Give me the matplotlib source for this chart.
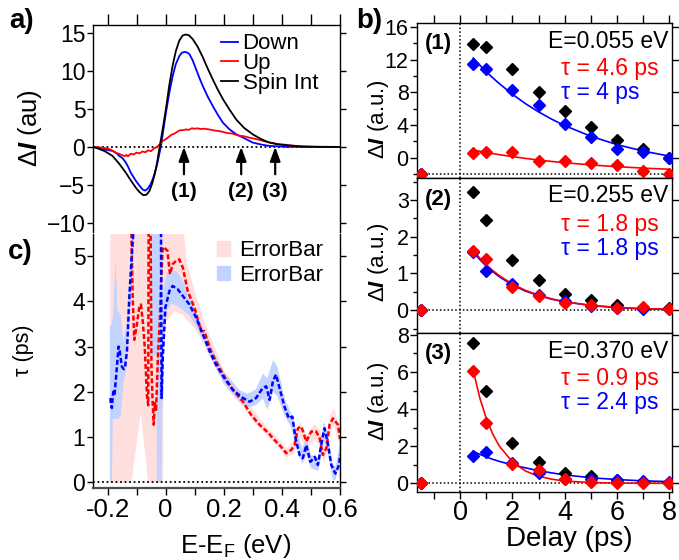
import numpy as np
import matplotlib
matplotlib.use("Agg")
import matplotlib.pyplot as plt
from matplotlib.patches import Patch

plt.rcParams['font.family'] = ['Liberation Sans', 'DejaVu Sans']
plt.rcParams['mathtext.fontset'] = 'custom'
plt.rcParams['mathtext.rm'] = 'Liberation Sans'
plt.rcParams['mathtext.it'] = 'Liberation Sans:italic'
plt.rcParams['mathtext.bf'] = 'Liberation Sans:bold'
plt.rcParams['axes.linewidth'] = 1.0
try:
    plt.rcParams['mathtext.bfit'] = 'Liberation Sans:italic:bold'
    DI = r'$\Delta\mathbfit{I}$'
except KeyError:
    DI = r'$\Delta\mathbf{I}$'

RED = '#ff0000'
BLUE = '#0000ff'
PINK = '#ffdede'
LBLUE = '#c3d3ff'

# ---- panel a: spectra (E - EF in eV, Delta I in au)
e_down = [-0.25, -0.217, -0.2, -0.183, -0.17, -0.16, -0.148, -0.137, -0.128, -0.12,
          -0.11, -0.102, -0.09, -0.079, -0.07, -0.062, -0.053, -0.045, -0.036, -0.028,
          -0.016, -0.008, 0.001, 0.012, 0.024, 0.035, 0.047, 0.056, 0.064, 0.073,
          0.082, 0.093, 0.105, 0.116, 0.128, 0.145, 0.162, 0.18, 0.197, 0.22,
          0.243, 0.266, 0.3, 0.33, 0.357, 0.415, 0.5, 0.6]
down = [0, -0.3, -0.4, -0.53, -0.8, -1.18, -1.5, -2.06, -2.7, -3.4,
        -4.0, -4.5, -5.1, -5.6, -5.75, -5.5, -5.0, -4.3, -3.3, -2.06,
        0.13, 2.2, 4.5, 7.0, 9.3, 10.9, 11.95, 12.4, 12.5, 12.45,
        12.2, 11.4, 10.2, 9.1, 8.0, 6.6, 5.4, 4.2, 3.2, 2.3,
        1.67, 1.23, 0.57, 0.3, 0.13, 0.02, 0, 0]

e_up = [-0.25, -0.22, -0.2, -0.19, -0.18, -0.17, -0.16, -0.15, -0.14, -0.135,
        -0.13, -0.12, -0.11, -0.1, -0.09, -0.08, -0.07, -0.06, -0.05, -0.04,
        -0.03, -0.02, -0.01, 0.0, 0.01, 0.02, 0.03, 0.04, 0.05, 0.06,
        0.07, 0.08, 0.09, 0.1, 0.11, 0.12, 0.13, 0.15, 0.17, 0.19,
        0.21, 0.23, 0.25, 0.27, 0.29, 0.31, 0.33, 0.35, 0.37, 0.39,
        0.41, 0.43, 0.45, 0.48, 0.52, 0.6]
up = [0, -0.1, -0.2, -0.35, -0.55, -0.8, -0.9, -1.1, -1.2, -1.05,
      -1.25, -0.9, -1.0, -0.75, -0.85, -0.6, -0.7, -0.45, -0.55, -0.2,
      0.0, 0.35, 0.8, 1.0, 1.3, 1.6, 1.75, 2.0, 2.2, 2.2,
      2.3, 2.25, 2.45, 2.4, 2.45, 2.35, 2.4, 2.3, 2.15, 2.05,
      1.85, 1.75, 1.5, 1.4, 1.2, 1.05, 0.85, 0.65, 0.5, 0.35,
      0.3, 0.2, 0.13, 0.06, 0.02, 0]

e_int = [-0.25, -0.24, -0.21, -0.183, -0.16, -0.137, -0.12, -0.102, -0.09, -0.077,
         -0.066, -0.056, -0.047, -0.039, -0.03, -0.022, -0.01, 0.001, 0.012, 0.024,
         0.035, 0.047, 0.058, 0.068, 0.08, 0.093, 0.11, 0.128, 0.145, 0.162,
         0.18, 0.197, 0.22, 0.243, 0.27, 0.3, 0.33, 0.357, 0.385, 0.415,
         0.47, 0.53, 0.6]
spin_int = [0, -0.1, -0.55, -1.18, -2.2, -3.4, -4.4, -5.4, -5.95, -6.35,
            -6.3, -5.8, -4.9, -3.8, -2.2, -0.3, 2.4, 5.0, 8.0, 10.7,
            12.6, 14.0, 14.65, 14.8, 14.7, 14.2, 13.2, 11.8, 10.3, 8.9,
            7.5, 6.3, 4.9, 3.6, 2.5, 1.65, 1.0, 0.57, 0.35, 0.22,
            0.05, 0.01, 0]

arrow_pos = [0.063, 0.26, 0.377]
arrow_lbl = ['(1)', '(2)', '(3)']

# ---- panel c: lifetimes (ps)
e_tau_up = [-0.125, -0.118, -0.113, -0.108, -0.100, -0.091, -0.085, -0.078, -0.072, -0.064,
            -0.060, -0.058, -0.053, -0.049, -0.045, -0.041, -0.037, -0.033, -0.027, -0.020,
            -0.016, -0.010, -0.005, 0.006, 0.015, 0.024, 0.036, 0.047, 0.059, 0.076,
            0.099, 0.122, 0.133, 0.156, 0.179, 0.208, 0.237, 0.266, 0.294, 0.323,
            0.355, 0.369, 0.392, 0.415, 0.432, 0.444, 0.455, 0.467, 0.484, 0.501,
            0.518, 0.530, 0.541, 0.553, 0.564, 0.576, 0.593, 0.600]
tau_up = [8.0, 5.5, 4.0, 3.15, 3.45, 3.86, 3.93, 3.5, 3.0, 1.9,
          1.7, 7.0, 7.0, 2.6, 1.8, 1.27, 1.75, 1.6, 2.7, 3.6,
          4.4, 5.2, 5.19, 5.12, 4.6, 4.82, 4.9, 4.93, 4.75, 4.23,
          3.86, 3.34, 3.34, 2.9, 2.6, 2.27, 2.0, 1.78, 1.49, 1.27,
          1.08, 0.97, 0.82, 0.64, 0.71, 0.82, 1.19, 1.23, 0.9, 1.12,
          1.12, 0.97, 0.6, 0.75, 1.27, 1.41, 1.27, 0.95]

e_tau_down = [-0.190, -0.188, -0.185, -0.182, -0.180, -0.176, -0.169, -0.162, -0.158, -0.151,
              -0.144, -0.140, -0.133, -0.125, -0.117, -0.111, -0.105, -0.020, -0.016, -0.014,
              -0.010, -0.001, 0.013, 0.024, 0.041, 0.059, 0.082, 0.105, 0.128, 0.151,
              0.173, 0.202, 0.231, 0.266, 0.289, 0.311, 0.334, 0.346, 0.358, 0.369,
              0.380, 0.392, 0.409, 0.424, 0.436, 0.447, 0.461, 0.472, 0.484, 0.498,
              0.513, 0.524, 0.539, 0.547, 0.559, 0.570, 0.584, 0.597, 0.600]
tau_down = [1.86, 1.7, 1.64, 1.9, 2.0, 1.93, 2.45, 3.0, 2.9, 2.56,
            2.5, 2.53, 2.9, 4.08, 4.97, 5.56, 8.0, 8.0, 5.56, 1.86,
            2.75, 3.86, 4.23, 4.34, 4.27, 4.12, 3.93, 3.64, 3.27, 2.9,
            2.6, 2.3, 2.04, 1.86, 1.78, 1.86, 2.08, 2.12, 1.82, 2.23,
            2.38, 2.08, 1.67, 1.41, 1.45, 0.97, 0.6, 0.53, 0.82, 0.45,
            0.56, 0.38, 0.97, 1.19, 0.82, 0.38, 0.19, 0.38, 0.6]

# error bands
e_err_up = [-0.192, -0.120, -0.087, -0.062, -0.010, -0.008, 0.03, 0.06, 0.07, 0.1,
            0.13, 0.16, 0.2, 0.24, 0.27, 0.3, 0.33, 0.36, 0.39, 0.415,
            0.44, 0.46, 0.485, 0.51, 0.53, 0.545, 0.565, 0.578, 0.6]
lo_up = [0, 0, 1.55, 0, 0, 3.5, 3.8, 3.7, 3.6, 3.4,
         3.05, 2.65, 2.15, 1.85, 1.65, 1.35, 1.15, 0.95, 0.75, 0.55,
         0.65, 1.0, 0.75, 0.95, 0.8, 0.45, 1.1, 1.25, 0.8]
hi_up = [5.6, 5.6, 5.6, 5.6, 5.6, 5.6, 5.6, 5.6, 4.9, 4.2,
         3.6, 3.1, 2.45, 2.15, 1.9, 1.6, 1.35, 1.15, 0.95, 0.75,
         0.95, 1.35, 1.05, 1.3, 1.15, 0.8, 1.5, 1.65, 1.1]

nan = float('nan')
e_err_down = [-0.192, -0.185, -0.182, -0.172, -0.166, -0.155, -0.145, -0.135, -0.125, -0.115,
              -0.105, nan, -0.052, -0.031, -0.030, -0.014, -0.012, -0.008, -0.003, 0.005,
              0.02, 0.04, 0.06, 0.08, 0.1, 0.13, 0.16, 0.2, 0.25, 0.28,
              0.31, 0.335, 0.35, 0.37, 0.385, 0.41, 0.43, 0.45, 0.47, 0.485,
              0.5, 0.525, 0.545, 0.56, 0.575, 0.585, 0.6]
lo_down = [0, 0, 1.4, 1.4, 1.4, 1.45, 2.2, 2.5, 3.6, 4.6,
           5.6, nan, 2.8, 2.8, 0, 0, 1.6, 2.4, 3.3, 3.8,
           3.95, 3.9, 3.8, 3.7, 3.5, 3.15, 2.7, 2.2, 1.8, 1.65,
           1.7, 1.85, 1.6, 2.0, 1.9, 1.45, 1.25, 0.75, 0.4, 0.6,
           0.3, 0.25, 0.9, 0.6, 0.05, 0.05, 0.5]
hi_down = [3.45, 3.5, 3.6, 4.9, 3.8, 3.7, 3.1, 3.5, 4.6, 5.6,
           5.6, nan, 5.6, 5.6, 5.6, 5.6, 5.6, 4.2, 4.4, 4.6,
           4.7, 4.65, 4.45, 4.15, 3.85, 3.4, 2.95, 2.45, 2.05, 1.95,
           2.05, 2.4, 2.3, 2.7, 2.55, 1.85, 1.55, 1.15, 0.75, 1.0,
           0.6, 0.55, 1.35, 1.0, 0.4, 0.35, 0.85]

# ---- panel b: delay traces
delay = [-1.5, 0.5, 1, 2, 3, 4, 5, 6, 7, 8]
int1 = [-2, 13.9, 13.6, 10.9, 8.0, 5.7, 3.7, 2.15, 1.0, -0.1]
down1 = [-2, 11.5, 10.9, 8.25, 6.4, 4.07, 2.5, 1.1, 0.73, -0.1]
up1 = [-1.95, 0.53, 0.73, 0.73, -0.4, -0.4, -0.7, -0.9, -1.6, -1.95]
int2 = [0, 3.23, 2.47, 1.38, 0.82, 0.45, 0.27, 0.14, 0.07, 0.05]
down2 = [0, 1.59, 1.07, 0.71, 0.41, 0.25, 0.12, 0.06, 0.02, 0.02]
up2 = [0, 1.61, 1.39, 0.64, 0.39, 0.2, 0.14, 0.07, 0.09, 0.02]
int3 = [0, 7.57, 4.95, 2.16, 1.17, 0.54, 0.4, 0.18, 0.09, 0.04]
down3 = [0, 1.48, 1.68, 1.12, 0.54, 0.25, 0.23, 0.18, 0.13, 0.05]
up3 = [0, 6.07, 3.24, 1.05, 0.72, 0.22, 0.05, 0, 0, 0]

fit_t = [0.5, 0.75, 1, 1.25, 1.5, 2, 2.5, 3, 3.5, 4, 5, 6, 7, 8]
fit_down1 = [12.2, 11.34, 10.53, 9.77, 9.06, 7.76, 6.61, 5.60, 4.71, 3.92, 2.61, 1.59, 0.80, 0.18]
fit_up1 = [0.93, 0.78, 0.63, 0.49, 0.36, 0.12, -0.10, -0.30, -0.47, -0.63, -0.90, -1.11, -1.29, -1.43]
fit_down2 = [1.59, 1.38, 1.20, 1.05, 0.91, 0.69, 0.52, 0.40, 0.30, 0.23, 0.13, 0.07, 0.04, 0.02]
fit_up2 = [1.64, 1.42, 1.24, 1.08, 0.94, 0.71, 0.54, 0.41, 0.31, 0.23, 0.13, 0.08, 0.04, 0.03]
fit_down3 = [1.72, 1.56, 1.42, 1.29, 1.18, 0.99, 0.83, 0.68, 0.56, 0.45, 0.30, 0.20, 0.13, 0.09]
fit_up3 = [6.08, 4.61, 3.49, 2.64, 2.00, 1.15, 0.66, 0.38, 0.22, 0.12, 0.04, 0.01, 0.0, 0.0]

energies = ['0.055', '0.255', '0.370']
tau_up_txt = ['4.6', '1.8', '0.9']
tau_down_txt = ['4', '1.8', '2.4']
baselines = [-2, 0, 0]

# ---------------------------------------------------------------
W, H = 679, 560
fig = plt.figure(figsize=(W / 100, H / 100), dpi=100)


def box(l, t, r, b):
    return fig.add_axes([l / W, 1 - b / H, (r - l) / W, (b - t) / H])


ax_a = box(93, 25, 340, 232)
ax_c = box(93, 234, 340, 488)
axes_b = [box(417, 23, 672, 178), box(417, 178, 672, 333), box(417, 333, 672, 492)]

dots = (0, (1, 1.5))

# panel a
ax_a.axhline(0, color='k', ls=dots, lw=1.3, zorder=1)
ax_a.plot(e_down, down, color=BLUE, lw=1.3, label='Down')
ax_a.plot(e_up, up, color=RED, lw=1.3, label='Up')
ax_a.plot(e_int, spin_int, color='k', lw=1.3, label='Spin Int')
for pos, lbl in zip(arrow_pos, arrow_lbl):
    ax_a.annotate('', xy=(pos, 0), xytext=(pos, -3.6),
                  arrowprops=dict(arrowstyle='-|>,head_length=0.6,head_width=0.22',
                                  color='k', lw=1.6, shrinkA=0, shrinkB=0, mutation_scale=14))
    ax_a.text(pos, -5.9, lbl, ha='center', va='center', fontsize=15, fontweight='bold')
ax_a.set_xlim(-0.25, 0.6)
ax_a.set_ylim(-11.2, 16.05)
ax_a.set_yticks([-10, -5, 0, 5, 10, 15])
ax_a.set_xticks([-0.2, -0.1, 0, 0.1, 0.2, 0.3, 0.4, 0.5, 0.6])
ax_a.tick_params(axis='x', bottom=False, labelbottom=False, top=True, labeltop=False,
                 direction='out', length=8, width=1)
ax_a.tick_params(axis='y', left=True, right=True, direction='out', length=4.5, width=1,
                 labelsize=16.5, pad=1)
ax_a.spines['bottom'].set_visible(False)
ax_a.set_ylabel(DI + ' (au)', fontsize=18.5)
ax_a.yaxis.set_label_coords(-0.198, 0.5)
ax_a.legend(loc='upper left', bbox_to_anchor=(0.518, 0.96), frameon=False, fontsize=16,
            handlelength=0.77, handletextpad=0.2, labelspacing=-0.05,
            borderpad=0, borderaxespad=0)
fig.text(9 / W, 1 - 21 / H, 'a)', fontsize=20, fontweight='bold', va='center', ha='left')

# panel c
ax_c.fill_between(e_err_up, lo_up, hi_up, color=PINK, lw=0)
ax_c.fill_between(e_err_down, lo_down, hi_down, color=LBLUE, lw=0)
ax_c.plot(e_tau_up, tau_up, color=RED, lw=1.8, dashes=(2, 1))
ax_c.plot(e_tau_down, tau_down, color=BLUE, lw=1.8, dashes=(2, 1))
ax_c.axhline(0, color='k', ls=dots, lw=1.3)
ax_c.set_xlim(-0.25, 0.6)
ax_c.set_ylim(-0.13, 5.49)
ax_c.set_yticks([0, 1, 2, 3, 4, 5])
ax_c.set_xticks([-0.2, 0, 0.2, 0.4, 0.6])
ax_c.set_xticklabels(['-0.2', '0', '0.2', '0.4', '0.6'])
ax_c.set_xticks([-0.1, 0.1, 0.3, 0.5], minor=True)
ax_c.tick_params(axis='x', which='both', direction='out', length=5, width=1, labelsize=18.5, pad=2)
ax_c.tick_params(axis='y', left=True, right=True, direction='out', length=4.5, width=1,
                 labelsize=16.5, pad=1)
ax_c.spines['top'].set_visible(False)
ax_c.spines['bottom'].set_color('0.3')
ax_c.spines['bottom'].set_linewidth(1.6)
ax_c.set_ylabel('τ (ps)', fontsize=15.5)
ax_c.yaxis.set_label_coords(-0.239, 0.543)
ax_c.set_xlabel('E-E$_\\mathrm{F}$ (eV)', fontsize=18.5)
ax_c.xaxis.set_label_coords(0.579, -0.172)
ax_c.legend(handles=[Patch(color=PINK), Patch(color=LBLUE)], labels=['ErrorBar', 'ErrorBar'],
            loc='upper left', bbox_to_anchor=(0.5, 0.975), frameon=False, fontsize=16,
            handlelength=0.6, handleheight=0.6, handletextpad=0.4, labelspacing=0.15,
            borderpad=0, borderaxespad=0)
fig.text(8 / W, 1 - 252 / H, 'c)', fontsize=20, fontweight='bold', va='center', ha='left')

# panel b
b_sets = [(int1, down1, up1, fit_down1, fit_up1),
          (int2, down2, up2, fit_down2, fit_up2),
          (int3, down3, up3, fit_down3, fit_up3)]
b_ylims = [(-2.5, 16.5), (-0.62, 3.6), (-0.47, 8.1)]
b_major = [[0, 4, 8, 12, 16], [0, 1, 2, 3], [0, 2, 4, 6, 8]]
b_minor = [[-2, 2, 6, 10, 14], [-0.5, 0.5, 1.5, 2.5, 3.5], [1, 3, 5, 7]]
b_label_y = [0.377, 0.458, 0.572]

for i, ax in enumerate(axes_b):
    yk, yb, yr, fb, fr = b_sets[i]
    ax.axvline(0, color='k', ls=dots, lw=1.1, zorder=1)
    ax.axhline(baselines[i], color='k', ls=dots, lw=1.1, zorder=1)
    ax.plot(fit_t, fb, color=BLUE, lw=1.2, zorder=2)
    ax.plot(fit_t, fr, color=RED, lw=1.2, zorder=2)
    ax.plot(delay, yk, 'D', color='k', ms=6, ls='none', zorder=3)
    ax.plot(delay, yb, 'D', color=BLUE, ms=6, ls='none', zorder=4)
    ax.plot(delay, yr, 'D', color=RED, ms=6, ls='none', zorder=5)
    ax.set_xlim(-1.65, 8.1)
    ax.set_ylim(*b_ylims[i])
    ax.set_yticks(b_major[i])
    ax.set_yticks(b_minor[i], minor=True)
    ax.tick_params(axis='y', which='major', left=True, right=True, direction='out',
                   length=5, width=1, labelsize=15.5, pad=1)
    ax.tick_params(axis='y', which='minor', left=True, right=False, direction='out',
                   length=3, width=1)
    ax.set_xticks([0, 2, 4, 6, 8])
    ax.set_xticks([-1, 1, 3, 5, 7], minor=True)
    if i == 0:
        ax.tick_params(axis='x', which='both', bottom=False, labelbottom=False, top=True,
                       direction='out', length=6, width=1)
    elif i == 1:
        ax.tick_params(axis='x', which='both', bottom=False, labelbottom=False, top=False)
    else:
        ax.tick_params(axis='x', which='both', bottom=True, top=False, direction='out',
                       length=5, width=1, labelsize=19.5, pad=1)
        ax.set_xlabel('Delay (ps)', fontsize=20)
        ax.xaxis.set_label_coords(0.596, -0.215)
    ax.set_ylabel(DI + ' (a.u.)', fontsize=16)
    ax.yaxis.set_label_coords(-0.102, b_label_y[i])

    ax.annotate('(%d)' % (i + 1), xy=(0, 1), xycoords='axes fraction', xytext=(8, -21),
                textcoords='offset pixels', ha='left', va='center', fontsize=16,
                fontweight='bold')
    ax.annotate('E=%s eV' % energies[i], xy=(1, 1), xycoords='axes fraction',
                xytext=(-4, -18), textcoords='offset pixels', ha='right', va='center',
                fontsize=16.5)
    ax.annotate('τ = %s ps' % tau_up_txt[i], xy=(0, 1), xycoords='axes fraction',
                xytext=(144, -46), textcoords='offset pixels', ha='left', va='center',
                fontsize=16.5, color=RED)
    ax.annotate('τ = %s ps' % tau_down_txt[i], xy=(0, 1), xycoords='axes fraction',
                xytext=(144, -70), textcoords='offset pixels', ha='left', va='center',
                fontsize=16.5, color=BLUE)

fig.text(356 / W, 1 - 21 / H, 'b)', fontsize=20, fontweight='bold', va='center', ha='left')

fig.savefig('out.png', dpi=100)
